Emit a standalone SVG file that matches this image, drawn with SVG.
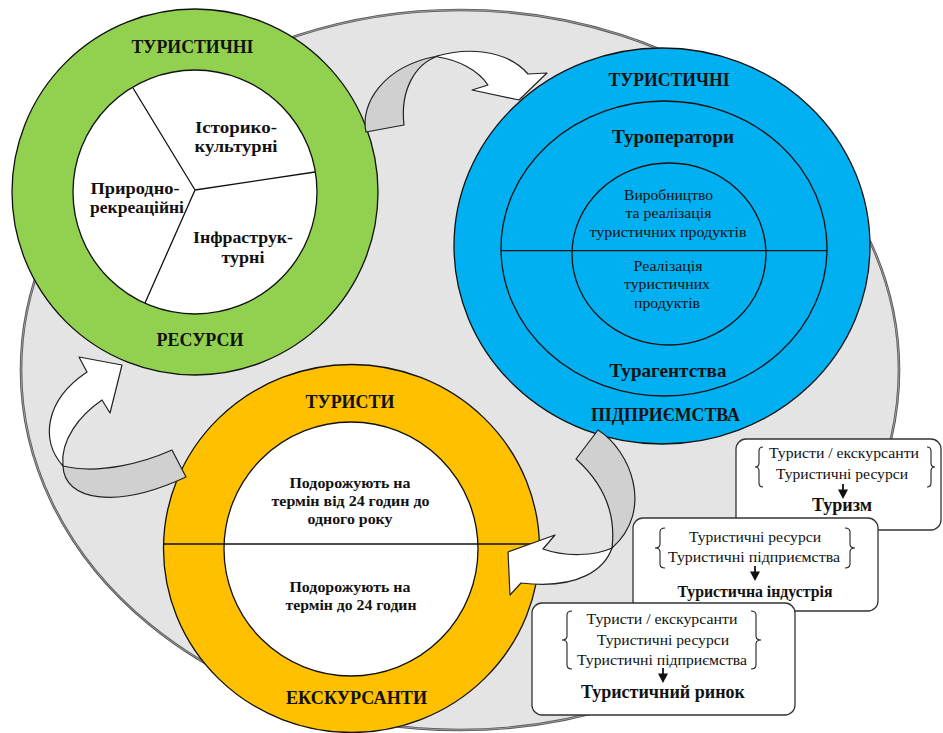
<svg xmlns="http://www.w3.org/2000/svg" width="943" height="733" viewBox="0 0 943 733">
<style>
.ln{fill:none;stroke:#111;stroke-width:1.3}
.ring{stroke:#111;stroke-width:1.3}
.t{font-family:"Liberation Serif","DejaVu Serif",serif;fill:#111;text-anchor:middle}
.b{font-weight:bold}
.arrG{fill:#d0d0d0;stroke:#222;stroke-width:1.2;stroke-linejoin:round}
.arrW{fill:#fff;stroke:#222;stroke-width:1.2;stroke-linejoin:round}
.box{fill:#fff;stroke:#333;stroke-width:1.3}
.br{fill:none;stroke:#222;stroke-width:1.1}
.da{fill:#111;stroke:#111;stroke-width:1.8}
</style>
<rect width="943" height="733" fill="#fff"/>
<g id="background">
<ellipse cx="460" cy="370" rx="439" ry="360" fill="#e4e4e4" stroke="#555" stroke-width="2.6"/>
<ellipse cx="460" cy="370" rx="439" ry="360" fill="none" stroke="#bbb" stroke-width="0.7"/>
</g>
<g id="resources">
<circle cx="195" cy="192" r="183" fill="#92d050" class="ring"/>
<circle cx="195" cy="192" r="122" fill="#fff" class="ring"/>
<path class="ln" d="M195,190 L133,88 M195,190 L315,172 M195,190 L145,303"/>
<text class="t b" x="192.5" y="53" font-size="19" textLength="122" lengthAdjust="spacingAndGlyphs">ТУРИСТИЧНІ</text>
<text class="t b" x="236" y="133" font-size="17" textLength="82" lengthAdjust="spacingAndGlyphs">Історико-</text>
<text class="t b" x="236" y="152" font-size="17" textLength="83" lengthAdjust="spacingAndGlyphs">культурні</text>
<text class="t b" x="135" y="194" font-size="17" textLength="89" lengthAdjust="spacingAndGlyphs">Природно-</text>
<text class="t b" x="137" y="213" font-size="17" textLength="94" lengthAdjust="spacingAndGlyphs">рекреаційні</text>
<text class="t b" x="243" y="243" font-size="17" textLength="100" lengthAdjust="spacingAndGlyphs">Інфраструк-</text>
<text class="t b" x="243" y="263" font-size="17" textLength="43" lengthAdjust="spacingAndGlyphs">турні</text>
<text class="t b" x="200" y="346" font-size="19" textLength="87" lengthAdjust="spacingAndGlyphs">РЕСУРСИ</text>
</g>
<g id="enterprises">
<ellipse cx="662" cy="246" rx="208" ry="198" fill="#00b0f0" class="ring"/>
<ellipse cx="664" cy="248.5" rx="163" ry="147.5" fill="none" class="ring"/>
<ellipse cx="669" cy="254" rx="97" ry="91" fill="none" class="ring"/>
<path class="ln" d="M501,250.7 H827"/>
<text class="t b" x="669" y="86" font-size="19" textLength="121" lengthAdjust="spacingAndGlyphs">ТУРИСТИЧНІ</text>
<text class="t b" x="673" y="143" font-size="19" textLength="122" lengthAdjust="spacingAndGlyphs">Туроператори</text>
<text class="t" x="668.5" y="200" font-size="14.5" textLength="89" lengthAdjust="spacingAndGlyphs">Виробництво</text>
<text class="t" x="668.5" y="218" font-size="14.5" textLength="86" lengthAdjust="spacingAndGlyphs">та реалізація</text>
<text class="t" x="668" y="236.5" font-size="14.5" textLength="157" lengthAdjust="spacingAndGlyphs">туристичних продуктів</text>
<text class="t" x="668" y="271" font-size="14.5" textLength="69" lengthAdjust="spacingAndGlyphs">Реалізація</text>
<text class="t" x="667" y="289" font-size="14.5" textLength="86" lengthAdjust="spacingAndGlyphs">туристичних</text>
<text class="t" x="667" y="307.5" font-size="14.5" textLength="66" lengthAdjust="spacingAndGlyphs">продуктів</text>
<text class="t b" x="668" y="377" font-size="19" textLength="117" lengthAdjust="spacingAndGlyphs">Турагентства</text>
<text class="t b" x="665.5" y="421" font-size="19" textLength="149" lengthAdjust="spacingAndGlyphs">ПІДПРИЄМСТВА</text>
</g>
<g id="visitors">
<ellipse cx="351.5" cy="548.5" rx="188" ry="184" fill="#ffc000" class="ring"/>
<circle cx="351" cy="549" r="127" fill="#fff" class="ring"/>
<path class="ln" d="M163.6,544 H539.4"/>
<text class="t b" x="350" y="408" font-size="19" textLength="89" lengthAdjust="spacingAndGlyphs">ТУРИСТИ</text>
<text class="t b" x="350" y="487.5" font-size="15" textLength="121" lengthAdjust="spacingAndGlyphs">Подорожують на</text>
<text class="t b" x="350.5" y="506" font-size="15" textLength="158" lengthAdjust="spacingAndGlyphs">термін від 24 годин до</text>
<text class="t b" x="350" y="523.5" font-size="15" textLength="85" lengthAdjust="spacingAndGlyphs">одного року</text>
<text class="t b" x="350" y="592" font-size="15" textLength="121" lengthAdjust="spacingAndGlyphs">Подорожують на</text>
<text class="t b" x="351" y="610" font-size="15" textLength="131" lengthAdjust="spacingAndGlyphs">термін до 24 годин</text>
<text class="t b" x="356.5" y="704" font-size="19" textLength="141" lengthAdjust="spacingAndGlyphs">ЕКСКУРСАНТИ</text>
</g>
<g id="connectors">
<path class="arrG" d="M366,132 C360,105 382,66 438,56 C415,64 400,90 404,125 Z"/>
<path class="arrW" d="M437,56 C465,48 505,48 528,74 L547,73 L519,100 L472,90 L488,85 C478,70 458,60 438,57 Z"/>
<path class="arrG" d="M172,450 C145,462 100,475 63,466 C64,500 115,510 186,477 Z"/>
<path class="arrW" d="M63,466 C40,440 45,400 87,372 L79,357 L122,365 L110,413 L102,400 C80,415 60,440 63,466 Z"/>
<path class="arrG" d="M598,430 C630,450 655,510 612,548 C616,515 605,485 576,459 Z"/>
<path class="arrW" d="M612,548 C605,568 580,590 521,583 L510,595 L508,552 L555,535 L543,549 C565,557 595,556 612,548 Z"/>
</g>
<g id="box-tourism">
<rect class="box" x="736" y="439" width="205" height="91" rx="10"/>
<path class="br" d="M763,447 q-4,0 -4,4 v12 q0,4 -4,4 q4,0 4,4 v12 q0,4 4,4"/>
<path class="br" d="M927,447 q4,0 4,4 v12 q0,4 4,4 q-4,0 -4,4 v12 q0,4 -4,4"/>
<text class="t" x="844" y="458" font-size="14" textLength="150" lengthAdjust="spacingAndGlyphs">Туристи / екскурсанти</text>
<text class="t" x="842" y="479" font-size="14" textLength="132" lengthAdjust="spacingAndGlyphs">Туристичні ресурси</text>
<path class="da" d="M843,484 V491"/><path class="da" stroke-width="0.8" d="M839.5,490.5 L846.5,490.5 L843,497 Z"/>
<text class="t b" x="842" y="511" font-size="19" textLength="60" lengthAdjust="spacingAndGlyphs">Туризм</text>
</g>
<g id="box-industry">
<rect class="box" x="633" y="518" width="245" height="93" rx="10"/>
<path class="br" d="M665,528 q-5,0 -5,4 v12 q0,4 -5,4 q5,0 5,4 v12 q0,4 5,4"/>
<path class="br" d="M845,528 q5,0 5,4 v12 q0,4 5,4 q-5,0 -5,4 v12 q0,4 -5,4"/>
<text class="t" x="755" y="542" font-size="14" textLength="132" lengthAdjust="spacingAndGlyphs">Туристичні ресурси</text>
<text class="t" x="754" y="562" font-size="14" textLength="172" lengthAdjust="spacingAndGlyphs">Туристичні підприємства</text>
<path class="da" d="M755,566 V573"/><path class="da" stroke-width="0.8" d="M751.5,572.5 L758.5,572.5 L755,579 Z"/>
<text class="t b" x="755" y="597" font-size="16" textLength="155" lengthAdjust="spacingAndGlyphs">Туристична індустрія</text>
</g>
<g id="box-market">
<rect class="box" x="532" y="603" width="263" height="112" rx="10"/>
<path class="br" d="M572,611 q-5,0 -5,4 v21 q0,4 -5,4 q5,0 5,4 v21 q0,4 5,4"/>
<path class="br" d="M751,611 q5,0 5,4 v21 q0,4 5,4 q-5,0 -5,4 v21 q0,4 -5,4"/>
<text class="t" x="662" y="624" font-size="14" textLength="151" lengthAdjust="spacingAndGlyphs">Туристи / екскурсанти</text>
<text class="t" x="663" y="644.5" font-size="14" textLength="132" lengthAdjust="spacingAndGlyphs">Туристичні ресурси</text>
<text class="t" x="662" y="665" font-size="14" textLength="170" lengthAdjust="spacingAndGlyphs">Туристичні підприємства</text>
<path class="da" d="M663,668 V675"/><path class="da" stroke-width="0.8" d="M659.5,674.5 L666.5,674.5 L663,681 Z"/>
<text class="t b" x="663" y="697.5" font-size="19" textLength="164" lengthAdjust="spacingAndGlyphs">Туристичний ринок</text>
</g>
</svg>
